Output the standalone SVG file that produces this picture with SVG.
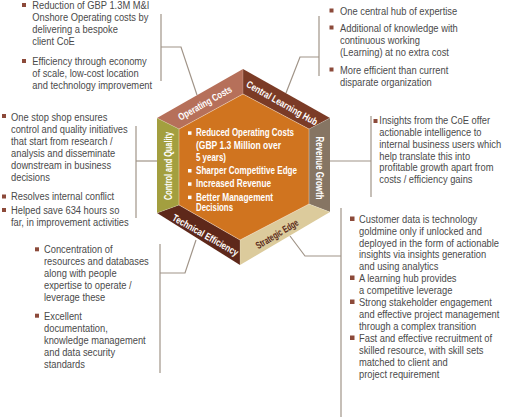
<svg xmlns="http://www.w3.org/2000/svg" width="510" height="417" viewBox="0 0 510 417">
<style>
.b{font-family:"Liberation Sans",Arial,sans-serif;font-size:11px;fill:#4a4a4a}
.bl{fill:#8c4a3a}
.cl{fill:none;stroke:#a09488;stroke-width:1.2}
.hl{font-family:"Liberation Sans Narrow","Liberation Sans",Arial,sans-serif;font-size:10px;font-weight:bold;fill:#ffffff;text-anchor:middle}
.ct{font-family:"Liberation Sans Narrow","Liberation Sans",Arial,sans-serif;font-size:10.8px;font-weight:bold;fill:#ffffff}
.wb{fill:#ffffff}
</style>
<rect width="510" height="417" fill="#ffffff"/>

<g id="connectors">
<polyline class="cl" points="161,14 161,81"/>
<polyline class="cl" points="161,47 181,47 197,95"/>
<polyline class="cl" points="319,16 319,76"/>
<polyline class="cl" points="319,57 300,57 286,93"/>
<polyline class="cl" points="136,126 136,218"/>
<polyline class="cl" points="136,161 157,161"/>
<polyline class="cl" points="371,116 371,197"/>
<polyline class="cl" points="330,161 371,161"/>
<polyline class="cl" points="160,244 160,373"/>
<polyline class="cl" points="160,273 185,273 196,240"/>
<polyline class="cl" points="341,208 341,417"/>
<polyline class="cl" points="290,236 305,256 341,256"/>
</g>

<g id="hexagon">
<polygon id="seg-operating" points="157,118 243,69 243,94 179,129" fill="#b6705a"/>
<polygon id="seg-central" points="243,69 330,118 309,129 243,94" fill="#7b3b26"/>
<polygon id="seg-revenue" points="330,118 330,212 309,204 309,129" fill="#867563"/>
<polygon id="seg-strategic" points="330,212 240,265 240,240 309,204" fill="#dccb9c"/>
<polygon id="seg-technical" points="240,265 157,213 179,205 240,240" fill="#5e281a"/>
<polygon id="seg-control" points="157,213 157,118 179,129 179,205" fill="#a39f3f"/>
<polygon id="core" points="243,94 309,129 309,204 240,240 179,205 179,129" fill="#d0741f"/>
<polygon points="243,94 309,129 309,204 240,240 179,205 179,129" fill="none" stroke="#ffffff" stroke-opacity="0.45" stroke-width="0.8"/>
<g stroke="#ffffff" stroke-opacity="0.25" stroke-width="0.8">
<line x1="243" y1="69" x2="243" y2="94"/>
<line x1="330" y1="118" x2="309" y2="129"/>
<line x1="330" y1="212" x2="309" y2="204"/>
<line x1="240" y1="265" x2="240" y2="240"/>
<line x1="157" y1="213" x2="179" y2="205"/>
<line x1="157" y1="118" x2="179" y2="129"/>
</g>
<text class="hl" transform="translate(205,103) rotate(-29.5)" y="3.5" textLength="60" lengthAdjust="spacingAndGlyphs">Operating Costs</text>
<text class="hl" transform="translate(282,103) rotate(29.5)" y="3.5" textLength="80" lengthAdjust="spacingAndGlyphs">Central Learning Hub</text>
<text class="hl" transform="translate(319.5,168) rotate(90)" y="3.5" textLength="63" lengthAdjust="spacingAndGlyphs">Revenue Growth</text>
<text class="hl" transform="translate(277,234) rotate(-31)" y="3.5" textLength="48" lengthAdjust="spacingAndGlyphs" style="fill:#5a2a1a">Strategic Edge</text>
<text class="hl" transform="translate(205.5,235) rotate(29.5)" y="3.5" textLength="74" lengthAdjust="spacingAndGlyphs">Technical Efficiency</text>
<text class="hl" transform="translate(168.5,166) rotate(-90)" y="3.5" textLength="68" lengthAdjust="spacingAndGlyphs">Control and Quality</text>
</g>

<g id="core-text">
<rect class="wb" x="188" y="131.3" width="3.5" height="3.5"/>
<rect class="wb" x="188" y="169" width="3.5" height="3.5"/>
<rect class="wb" x="188" y="182.3" width="3.5" height="3.5"/>
<rect class="wb" x="188" y="195.6" width="3.5" height="3.5"/>
<text class="ct">
<tspan x="196" y="136" textLength="98" lengthAdjust="spacingAndGlyphs">Reduced Operating Costs</tspan>
<tspan x="196" y="148.5" textLength="85" lengthAdjust="spacingAndGlyphs">(GBP  1.3 Million over</tspan>
<tspan x="196" y="160.5" textLength="30" lengthAdjust="spacingAndGlyphs">5 years)</tspan>
<tspan x="196" y="173.5" textLength="101" lengthAdjust="spacingAndGlyphs">Sharper Competitive Edge</tspan>
<tspan x="196" y="187" textLength="75" lengthAdjust="spacingAndGlyphs">Increased Revenue</tspan>
<tspan x="196" y="200.5" textLength="77" lengthAdjust="spacingAndGlyphs">Better Management</tspan>
<tspan x="196" y="211" textLength="37" lengthAdjust="spacingAndGlyphs">Decisions</tspan>
</text>
</g>

<g id="note-operating">
<rect class="bl" x="22" y="3" width="4" height="4"/>
<rect class="bl" x="22" y="59" width="4" height="4"/>
<g transform="translate(32.3,0) scale(0.85,1)">
<text class="b">
<tspan x="0" y="9">Reduction of GBP 1.3M M&amp;I</tspan>
<tspan x="0" y="21">Onshore Operating costs by</tspan>
<tspan x="0" y="33">delivering a bespoke</tspan>
<tspan x="0" y="45">client CoE</tspan>
<tspan x="0" y="65">Efficiency through economy</tspan>
<tspan x="0" y="77">of scale, low-cost location</tspan>
<tspan x="0" y="89">and technology improvement</tspan>
</text>
</g>
</g>

<g id="note-central">
<rect class="bl" x="329.5" y="8.5" width="4" height="4"/>
<rect class="bl" x="329.5" y="25.5" width="4" height="4"/>
<rect class="bl" x="329.5" y="67.5" width="4" height="4"/>
<g transform="translate(340,0) scale(0.85,1)">
<text class="b">
<tspan x="0" y="15">One central hub of expertise</tspan>
<tspan x="0" y="32">Additional of knowledge with</tspan>
<tspan x="0" y="44">continuous working</tspan>
<tspan x="0" y="56">(Learning) at no extra cost</tspan>
<tspan x="0" y="74">More efficient than current</tspan>
<tspan x="0" y="86">disparate organization</tspan>
</text>
</g>
</g>

<g id="note-control">
<rect class="bl" x="2" y="114" width="4" height="4"/>
<rect class="bl" x="2" y="194.5" width="4" height="4"/>
<rect class="bl" x="2" y="208" width="4" height="4"/>
<g transform="translate(11,0) scale(0.85,1)">
<text class="b">
<tspan x="0" y="121">One stop shop ensures</tspan>
<tspan x="0" y="133">control and quality initiatives</tspan>
<tspan x="0" y="145">that start from research /</tspan>
<tspan x="0" y="157">analysis and disseminate</tspan>
<tspan x="0" y="169">downstream in business</tspan>
<tspan x="0" y="181">decisions</tspan>
<tspan x="0" y="200">Resolves internal conflict</tspan>
<tspan x="0" y="214">Helped save 634 hours so</tspan>
<tspan x="0" y="226">far, in improvement activities</tspan>
</text>
</g>
</g>

<g id="note-revenue">
<rect class="bl" x="373.5" y="119" width="4" height="4"/>
<g transform="translate(379.3,0) scale(0.85,1)">
<text class="b">
<tspan x="0" y="124.5">Insights from the CoE offer</tspan>
<tspan x="0" y="136.2">actionable intelligence to</tspan>
<tspan x="0" y="147.9">internal business users which</tspan>
<tspan x="0" y="159.6">help translate this into</tspan>
<tspan x="0" y="171.3">profitable growth apart from</tspan>
<tspan x="0" y="183">costs / efficiency gains</tspan>
</text>
</g>
</g>

<g id="note-strategic">
<rect class="bl" x="350" y="216.5" width="4.5" height="4.5"/>
<rect class="bl" x="350" y="275.5" width="4.5" height="4.5"/>
<rect class="bl" x="350" y="299.5" width="4.5" height="4.5"/>
<rect class="bl" x="350" y="335.5" width="4.5" height="4.5"/>
<g transform="translate(359,0) scale(0.85,1)">
<text class="b">
<tspan x="0" y="223">Customer data is technology</tspan>
<tspan x="0" y="235">goldmine only if unlocked and</tspan>
<tspan x="0" y="247">deployed in the form of actionable</tspan>
<tspan x="0" y="258.5">insights via insights generation</tspan>
<tspan x="0" y="270">and using analytics</tspan>
<tspan x="0" y="282">A learning hub provides</tspan>
<tspan x="0" y="294">a competitive leverage</tspan>
<tspan x="0" y="306">Strong stakeholder engagement</tspan>
<tspan x="0" y="318">and effective project management</tspan>
<tspan x="0" y="330">through a complex transition</tspan>
<tspan x="0" y="342">Fast and effective recruitment of</tspan>
<tspan x="0" y="354">skilled resource, with skill sets</tspan>
<tspan x="0" y="366">matched to client and</tspan>
<tspan x="0" y="378">project requirement</tspan>
</text>
</g>
</g>

<g id="note-technical">
<rect class="bl" x="35" y="247.3" width="4" height="4"/>
<rect class="bl" x="35" y="313.7" width="4" height="4"/>
<g transform="translate(44,0) scale(0.85,1)">
<text class="b">
<tspan x="0" y="253.5">Concentration of</tspan>
<tspan x="0" y="265.5">resources and databases</tspan>
<tspan x="0" y="277.5">along with people</tspan>
<tspan x="0" y="289.5">expertise to operate /</tspan>
<tspan x="0" y="301.5">leverage these</tspan>
<tspan x="0" y="320">Excellent</tspan>
<tspan x="0" y="332">documentation,</tspan>
<tspan x="0" y="344">knowledge management</tspan>
<tspan x="0" y="356">and data security</tspan>
<tspan x="0" y="368">standards</tspan>
</text>
</g>
</g>
</svg>
